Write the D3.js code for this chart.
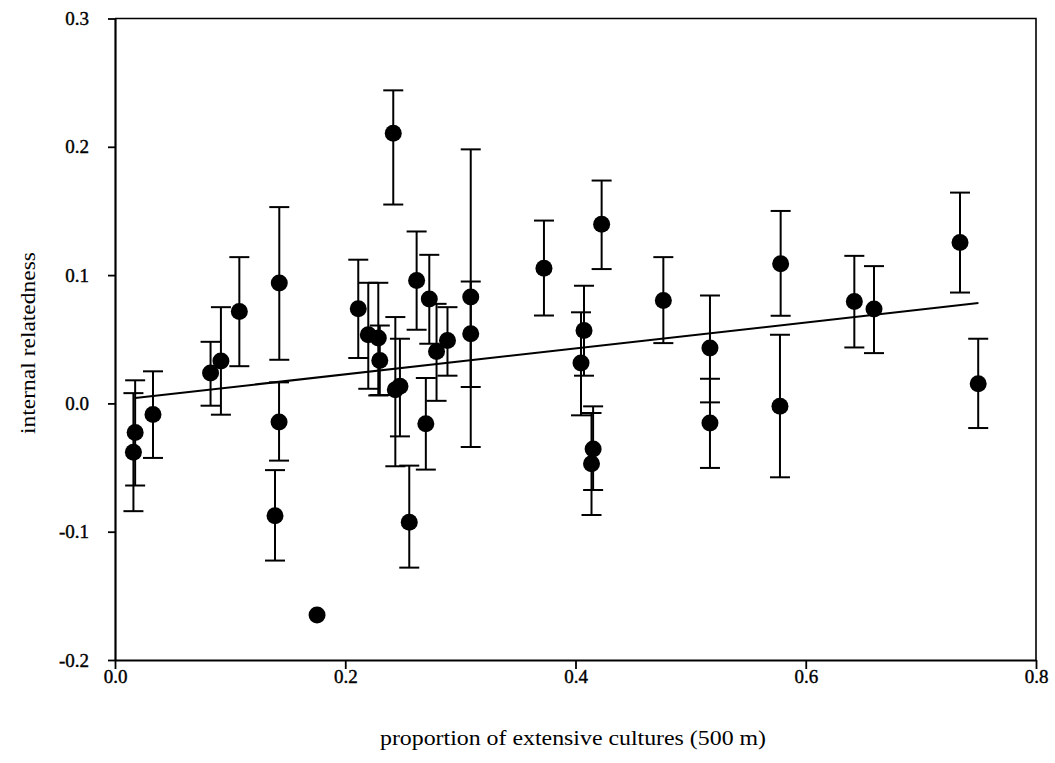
<!DOCTYPE html>
<html lang="en">

<head>
    <meta charset="UTF-8">
    <title>internal relatedness vs extensive cultures</title>
    <script src="https://d3js.org/d3.v7.min.js"></script>
    <style>
        body {
            margin: 0;
            background: white;
        }

        .axis-title {
            font-family: "Liberation Serif", "Times New Roman", serif;
            font-size: 21px;
            fill: black;
        }
    </style>
</head>

<body>
    <div id="chart"></div>

    <script>
        /*-------------------------------------------------------*/
        /*------------------------ data -------------------------*/
        /*-------------------------------------------------------*/
        // proportion of extensive cultures (500 m)
        const xVals = [0.016, 0.0175, 0.033, 0.083, 0.092, 0.108, 0.1427, 0.1425, 0.139, 0.1755,
            0.2113, 0.22, 0.2287, 0.23, 0.2435, 0.2475, 0.2417, 0.2556, 0.262, 0.27,
            0.273, 0.2793, 0.2888, 0.309, 0.309, 0.3726, 0.4048, 0.4074, 0.4139, 0.4153,
            0.4227, 0.4763, 0.5168, 0.5168, 0.5782, 0.5776, 0.6422, 0.6593, 0.734, 0.7498];
        // internal relatedness (mean)
        const yVals = [-0.038, -0.0226, -0.0086, 0.0237, 0.033, 0.0717, 0.0938, -0.0145, -0.0875, -0.165,
            0.0737, 0.0535, 0.051, 0.0335, 0.0107, 0.0133, 0.2106, -0.0927, 0.0958, -0.0158,
            0.0813, 0.0405, 0.049, 0.083, 0.0543, 0.1054, 0.0315, 0.0569, -0.047, -0.0355,
            0.1397, 0.0802, 0.0431, -0.0153, 0.1088, -0.0023, 0.0794, 0.0735, 0.1254, 0.0153];
        // lower end of error bar
        const yLow = [-0.084, -0.064, -0.0425, -0.0018, -0.0088, 0.029, 0.034, -0.0446, -0.1225, -0.165,
            0.0354, 0.0114, 0.0062, 0.0065, -0.049, -0.0257, 0.155, -0.128, 0.0574, -0.0516,
            0.0465, 0.002, 0.0216, -0.034, 0.0128, 0.0685, -0.0093, 0.0216, -0.087, -0.0675,
            0.1047, 0.047, 0.0008, -0.0503, 0.0683, -0.0576, 0.0436, 0.0392, 0.0864, -0.0192];
        // upper end of error bar
        const yHigh = [0.008, 0.018, 0.025, 0.048, 0.075, 0.114, 0.153, 0.0164, -0.052, -0.165,
            0.112, 0.094, 0.094, 0.0607, 0.0673, 0.0504, 0.244, -0.0485, 0.134, 0.0198,
            0.1158, 0.0776, 0.075, 0.198, 0.095, 0.1425, 0.071, 0.0917, -0.0075, -0.0023,
            0.1737, 0.114, 0.0841, 0.0192, 0.150, 0.0535, 0.115, 0.107, 0.1643, 0.0504];

        // fitted regression line end points
        const fitX = [0.0175, 0.75];
        const fitY = [0.0042, 0.0782];

        const xTicks = [0.0, 0.2, 0.4, 0.6, 0.8];
        const yTicks = [-0.2, -0.1, 0.0, 0.1, 0.2, 0.3];

        /*-------------------------------------------------------*/
        /*------------------- Window setting --------------------*/
        /*-------------------------------------------------------*/
        const width = 1055, height = 763;
        const plotLeft = 115, plotRight = 1036, plotTop = 18.5, plotBottom = 660;

        const svg = d3.select("#chart").append("svg")
            .attr("width", width)
            .attr("height", height);

        const x = d3.scaleLinear().domain([0, 0.8]).range([plotLeft, plotRight]);
        const y = d3.scaleLinear().domain([-0.2, 0.3]).range([plotBottom, plotTop]);

        // plain hyphen for negatives, like the original
        const fmt = d => d.toFixed(1);

        /*-------------------------------------------------------*/
        /*------------------------ axes -------------------------*/
        /*-------------------------------------------------------*/
        // frame (top and right)
        svg.append("path")
            .attr("d", `M${plotLeft},${plotTop}H${plotRight}V${plotBottom}`)
            .attr("fill", "none")
            .attr("stroke", "black")
            .attr("stroke-width", 1.6);

        const xAxis = svg.append("g")
            .attr("transform", `translate(0,${plotBottom})`)
            .call(d3.axisBottom(x).tickValues(xTicks).tickFormat(fmt)
                .tickSize(9).tickPadding(1).tickSizeOuter(0));

        const yAxis = svg.append("g")
            .attr("transform", `translate(${plotLeft},0)`)
            .call(d3.axisLeft(y).tickValues(yTicks).tickFormat(fmt)
                .tickSize(7).tickPadding(19).tickSizeOuter(0));

        [xAxis, yAxis].forEach(g => {
            g.attr("font-family", "Liberation Serif, Times New Roman, serif")
                .attr("font-size", 19);
            g.select(".domain").attr("stroke-width", 2.2);
            g.selectAll(".tick line").attr("stroke-width", 1.8);
            g.selectAll(".tick text")
                .attr("fill", "black")
                .attr("stroke", "black")
                .attr("stroke-width", 0.4);
        });

        svg.append("text")
            .attr("class", "axis-title")
            .attr("x", 573)
            .attr("y", 745)
            .attr("text-anchor", "middle")
            .attr("textLength", 386)
            .attr("lengthAdjust", "spacingAndGlyphs")
            .text("proportion of extensive cultures (500 m)");

        svg.append("text")
            .attr("class", "axis-title")
            .attr("transform", "translate(35,343) rotate(-90)")
            .attr("text-anchor", "middle")
            .attr("textLength", 182)
            .attr("lengthAdjust", "spacingAndGlyphs")
            .text("internal relatedness");

        /*-------------------------------------------------------*/
        /*------------------- regression line -------------------*/
        /*-------------------------------------------------------*/
        svg.append("path")
            .datum(d3.zip(fitX, fitY))
            .attr("d", d3.line().x(d => x(d[0])).y(d => y(d[1])))
            .attr("fill", "none")
            .attr("stroke", "black")
            .attr("stroke-width", 2);

        /*-------------------------------------------------------*/
        /*--------------------- error bars ----------------------*/
        /*-------------------------------------------------------*/
        const pts = xVals.map((v, i) => ({ x: v, y: yVals[i], lo: yLow[i], hi: yHigh[i] }));
        const cap = 10;

        const bars = svg.append("g")
            .attr("stroke", "black")
            .attr("stroke-width", 2)
            .selectAll("g")
            .data(pts.filter(d => d.hi > d.lo))
            .join("g");

        bars.append("line")
            .attr("x1", d => x(d.x)).attr("x2", d => x(d.x))
            .attr("y1", d => y(d.lo)).attr("y2", d => y(d.hi));
        bars.append("line")
            .attr("x1", d => x(d.x) - cap).attr("x2", d => x(d.x) + cap)
            .attr("y1", d => y(d.hi)).attr("y2", d => y(d.hi));
        bars.append("line")
            .attr("x1", d => x(d.x) - cap).attr("x2", d => x(d.x) + cap)
            .attr("y1", d => y(d.lo)).attr("y2", d => y(d.lo));

        svg.append("g")
            .selectAll("circle")
            .data(pts)
            .join("circle")
            .attr("cx", d => x(d.x))
            .attr("cy", d => y(d.y))
            .attr("r", 8.5)
            .attr("fill", "black");
    </script>
</body>

</html>
